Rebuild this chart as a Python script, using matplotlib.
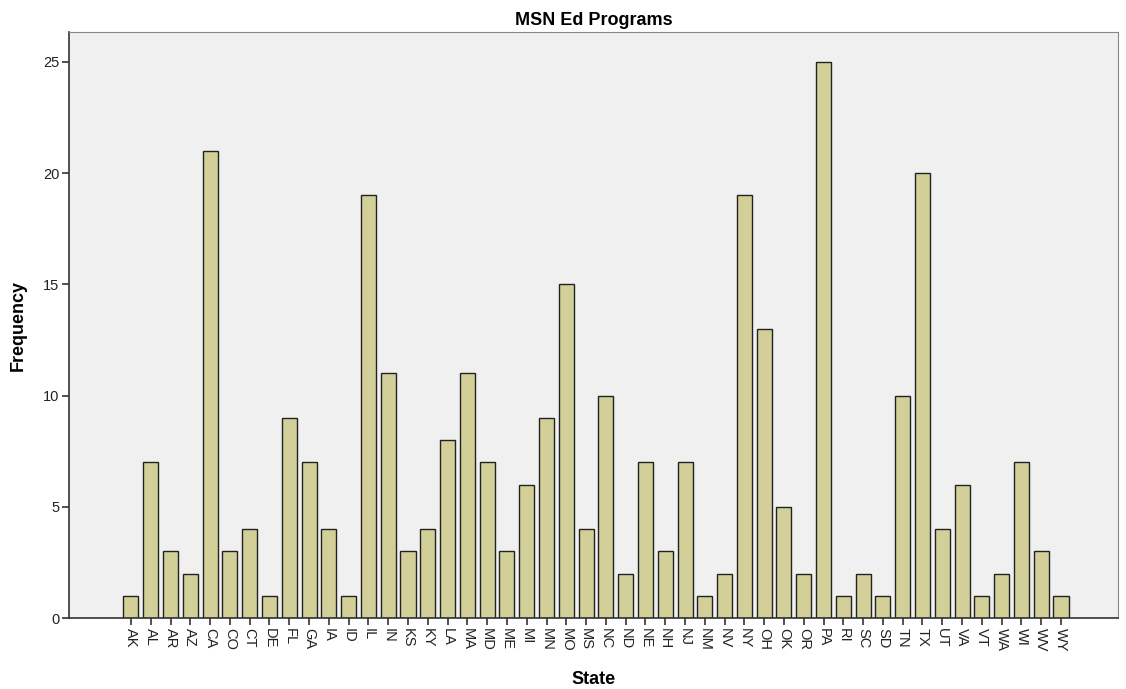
import matplotlib
matplotlib.use("Agg")
import matplotlib.pyplot as plt

states = ["AK", "AL", "AR", "AZ", "CA", "CO", "CT", "DE", "FL", "GA", "IA", "ID",
          "IL", "IN", "KS", "KY", "LA", "MA", "MD", "ME", "MI", "MN", "MO", "MS",
          "NC", "ND", "NE", "NH", "NJ", "NM", "NV", "NY", "OH", "OK", "OR", "PA",
          "RI", "SC", "SD", "TN", "TX", "UT", "VA", "VT", "WA", "WI", "WV", "WY"]
counts = [1, 7, 3, 2, 21, 3, 4, 1, 9, 7, 4, 1,
          19, 11, 3, 4, 8, 11, 7, 3, 6, 9, 15, 4,
          10, 2, 7, 3, 7, 1, 2, 19, 13, 5, 2, 25,
          1, 2, 1, 10, 20, 4, 6, 1, 2, 7, 3, 1]
yticks = [0, 5, 10, 15, 20, 25]

plt.rcParams['font.family'] = ['Liberation Sans', 'DejaVu Sans']

fig = plt.figure(figsize=(11.26, 6.89), dpi=100)
ax = fig.add_axes([0.0613, 0.103, 0.9316, 0.8506])
ax.set_facecolor('#f0f0f0')

x = list(range(len(states)))
ax.bar(x, counts, width=0.76, color='#d3cf98', edgecolor='#222222', linewidth=1.0, zorder=2)

ax.set_xlim(-3.13, len(states) - 1 + 2.88)
ax.set_ylim(0, 26.35)
ax.set_xticks(x)
ax.set_xticklabels(states, rotation=-90, fontsize=10.5, color='#222222')
ax.set_yticks(yticks)
ax.set_yticklabels([str(v) for v in yticks], fontsize=10.5, color='#222222')
ax.tick_params(axis='both', length=5, width=1.2, color='#333333', pad=2)

for side in ['top', 'right']:
    ax.spines[side].set_color('#888888')
    ax.spines[side].set_linewidth(0.8)
for side in ['left', 'bottom']:
    ax.spines[side].set_color('#333333')
    ax.spines[side].set_linewidth(1.2)

ax.set_title('MSN Ed Programs', fontsize=13, fontweight='bold', pad=5)
ax.set_ylabel('Frequency', fontsize=13, fontweight='bold', labelpad=12)
ax.set_xlabel('State', fontsize=13, fontweight='bold', labelpad=14)

fig.savefig('out.png', dpi=100)
